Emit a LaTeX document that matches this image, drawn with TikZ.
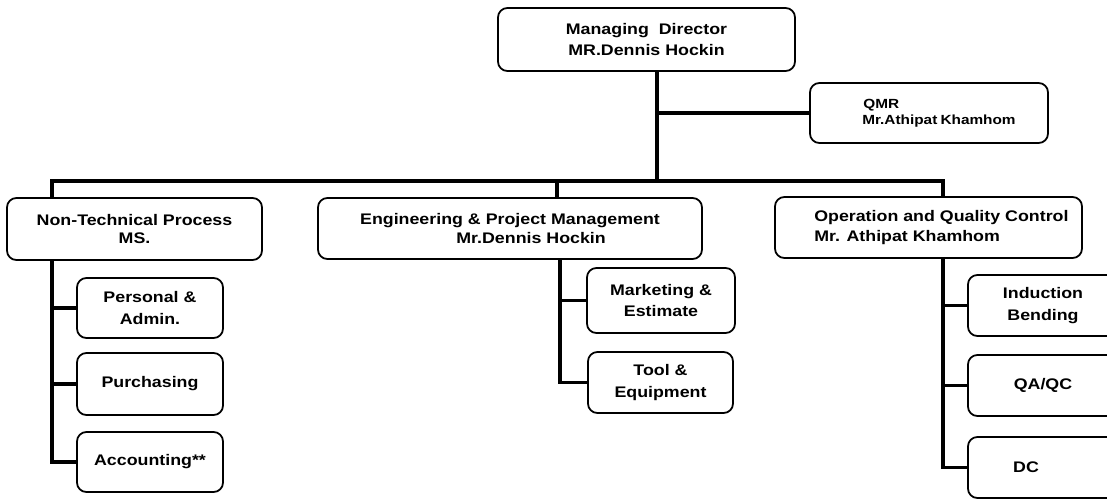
\documentclass[tikz,border=0pt]{standalone}
\usepackage{fontspec}
\setmainfont{Liberation Sans}[FakeStretch=1.16]
\usepackage{tikz}
\usepackage{xcolor}

\tikzset{
	orgbox/.style={shape=rectangle, draw, rounded corners=8pt, line width=1.5pt, minimum height=1.83cm, inner sep=2pt, font=\fontsize{13.1}{18.4}\selectfont\bfseries},
	orgline/.style={line width=2.6pt}
}

\begin{document}
\begin{tikzpicture}[x=0.03cm, y=-0.03cm]
	\useasboundingbox (0,0) rectangle (1107,498);
	% Boxes and connecting lines:
	\node[orgbox, minimum width=8.91cm, minimum height=1.89cm, align=center](MD) at (646.5, 39.5){Managing~ Director\\MR.Dennis Hockin};
	\node[orgbox, minimum width=7.14cm, minimum height=1.8cm, align=left, font=\fontsize{11.3}{13.7}\selectfont\bfseries](QMR) at (929, 113){\hspace*{17pt}\raisebox{4pt}{\parbox{4.6cm}{\hspace*{1pt}QMR\\Mr.Athipat Khamhom}}};
	\node[orgbox, minimum width=7.65cm, minimum height=1.86cm, align=center, font=\fontsize{13.1}{16}\selectfont\bfseries](NT) at (134.5, 229){Non-Technical Process\\MS.};
	\node[orgbox, minimum width=11.52cm, align=center, font=\fontsize{13.1}{17}\selectfont\bfseries](EPM) at (510, 228.5){Engineering \& Project Management\\\hspace*{36pt}Mr.Dennis Hockin};
	\node[orgbox, minimum width=9.21cm, align=left, font=\fontsize{13.1}{17.5}\selectfont\bfseries](OQC) at (928.5, 227.5){\hspace*{22pt}Operation and Quality Control\\\hspace*{22pt}Mr. Athipat Khamhom};
	\node[orgbox, minimum width=4.38cm, minimum height=1.8cm, align=center](PA) at (150, 308){Personal \&\\Admin.};
	\node[orgbox, minimum width=4.38cm, minimum height=1.86cm](PUR) at (150, 384){Purchasing};
	\node[orgbox, minimum width=4.38cm, minimum height=1.8cm](ACC) at (150, 462){\raisebox{4pt}{Accounting**}};
	\node[orgbox, minimum width=4.44cm, minimum height=1.95cm, align=center](MKT) at (661, 300.5){Marketing \&\\Estimate};
	\node[orgbox, minimum width=4.35cm, align=center](TOOL) at (660.5, 382.5){Tool \&\\Equipment};
	\node[orgbox, minimum width=4.5cm, align=center](IB) at (1043, 305.5){Induction\\Bending};
	\node[orgbox, minimum width=4.5cm](QAQC) at (1043, 385.5){QA/QC};
	\node[orgbox, minimum width=4.5cm](DC) at (1043, 467.5){DC\hspace*{29pt}};
	\coordinate (TRUNK) at (657, 181);
	\coordinate (BUSL) at (52, 181);
	\coordinate (BUSM) at (557, 181);
	\coordinate (BUSR) at (943, 181);
	\coordinate (SUBM) at (560, 181);
	\draw[orgline] (MD.south -| TRUNK) -- (TRUNK);
	\draw[orgline] (QMR.west -| TRUNK) -- (QMR.west);
	\draw[orgline] (NT.north -| BUSL) -- (BUSL) -- (BUSR) -- (OQC.north -| BUSR);
	\draw[orgline] (BUSM) -- (EPM.north -| BUSM);
	\draw[orgline] (NT.south -| BUSL) |- (ACC.west);
	\draw[orgline] (PA.west -| BUSL) -- (PA.west);
	\draw[orgline] (PUR.west -| BUSL) -- (PUR.west);
	\draw[orgline] (EPM.south -| SUBM) |- (TOOL.west);
	\draw[orgline] (MKT.west -| SUBM) -- (MKT.west);
	\draw[orgline] (OQC.south -| BUSR) |- (DC.west);
	\draw[orgline] (IB.west -| BUSR) -- (IB.west);
	\draw[orgline] (QAQC.west -| BUSR) -- (QAQC.west);
\end{tikzpicture}
\end{document}
